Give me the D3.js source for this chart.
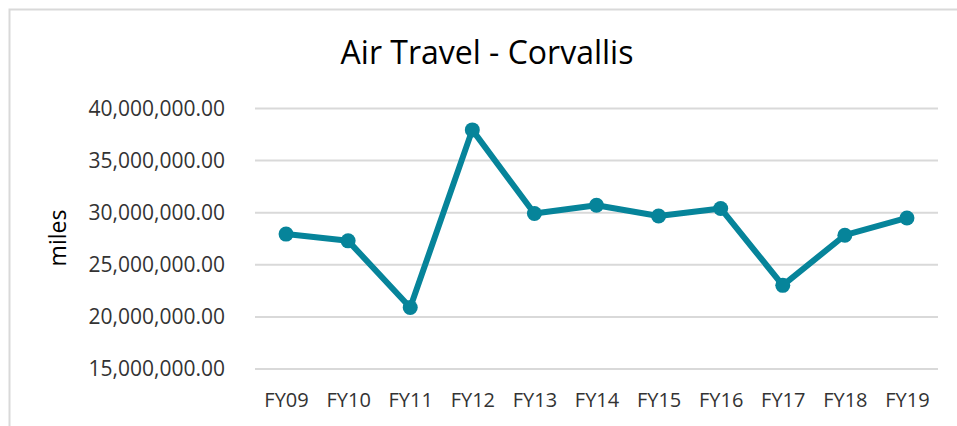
<!DOCTYPE html>
<html>
<head>
<meta charset="utf-8">
<script src="https://cdn.jsdelivr.net/npm/d3@7"></script>
<style>
  body { margin: 0; background: #fff; }
  text { font-family: "Open Sans", sans-serif; }
</style>
</head>
<body>
<div id="chart"></div>
<script>
var years = ["FY09", "FY10", "FY11", "FY12", "FY13", "FY14", "FY15", "FY16", "FY17", "FY18", "FY19"];
var miles = [27900000, 27250000, 20850000, 37900000, 29870000, 30670000, 29640000, 30360000, 22980000, 27790000, 29450000];
var yTicks = [15000000, 20000000, 25000000, 30000000, 35000000, 40000000];

var width = 957, height = 426;
var margin = { top: 108, right: 19, bottom: 57.5, left: 255 };
var innerW = width - margin.left - margin.right,
  innerH = height - margin.top - margin.bottom;

var svg = d3.select("#chart")
  .append("svg")
  .attr("width", width)
  .attr("height", height);

// chart frame (only top and left edges are visible in the picture)
svg.append("path")
  .attr("d", "M9.5," + height + "V9.5H" + width)
  .attr("fill", "none")
  .attr("stroke", "#d9d9d9")
  .attr("stroke-width", 2);

var g = svg.append("g")
  .attr("transform", "translate(" + margin.left + "," + margin.top + ")");

var xScale = d3.scalePoint()
  .domain(years)
  .range([0, innerW])
  .padding(0.5);

var yScale = d3.scaleLinear()
  .domain([15000000, 40000000])
  .range([innerH, 0]);

var fmt = d3.format(",.2f");

// gridlines
g.append("g")
  .call(d3.axisLeft(yScale).tickValues(yTicks).tickSize(-innerW).tickFormat(""))
  .call(function (s) { s.select(".domain").remove(); })
  .selectAll("line")
  .attr("stroke", "#d9d9d9")
  .attr("stroke-width", 2);

// y labels
var yAxis = g.append("g")
  .attr("transform", "translate(-27,0)")
  .call(d3.axisLeft(yScale).tickValues(yTicks).tickSize(0).tickFormat(fmt));
yAxis.select(".domain").remove();
yAxis.selectAll("text")
  .attr("fill", "#333")
  .style("font-size", "21px")
  .attr("dy", "0.35em");

// x labels
var xAxis = g.append("g")
  .attr("transform", "translate(0," + innerH + ")")
  .call(d3.axisBottom(xScale).tickSize(0));
xAxis.select(".domain").remove();
xAxis.selectAll("text")
  .attr("fill", "#333")
  .style("font-size", "20px")
  .attr("y", 38.5)
  .attr("dy", 0);

var line = d3.line()
  .x(function (d, i) { return xScale(years[i]); })
  .y(function (d) { return yScale(d); });

g.append("path")
  .datum(miles)
  .attr("d", line)
  .attr("fill", "none")
  .attr("stroke", "#06849a")
  .attr("stroke-width", 6)
  .attr("stroke-linejoin", "round");

g.selectAll("circle")
  .data(miles)
  .enter()
  .append("circle")
  .attr("cx", function (d, i) { return xScale(years[i]); })
  .attr("cy", function (d) { return yScale(d); })
  .attr("r", 7.5)
  .attr("fill", "#06849a");

svg.append("text")
  .attr("x", 487)
  .attr("y", 64)
  .attr("text-anchor", "middle")
  .attr("fill", "#000")
  .style("font-size", "32px")
  .text("Air Travel - Corvallis");

svg.append("text")
  .attr("transform", "translate(66,238) rotate(-90)")
  .attr("text-anchor", "middle")
  .attr("fill", "#000")
  .style("font-size", "23px")
  .text("miles");
</script>
</body>
</html>
